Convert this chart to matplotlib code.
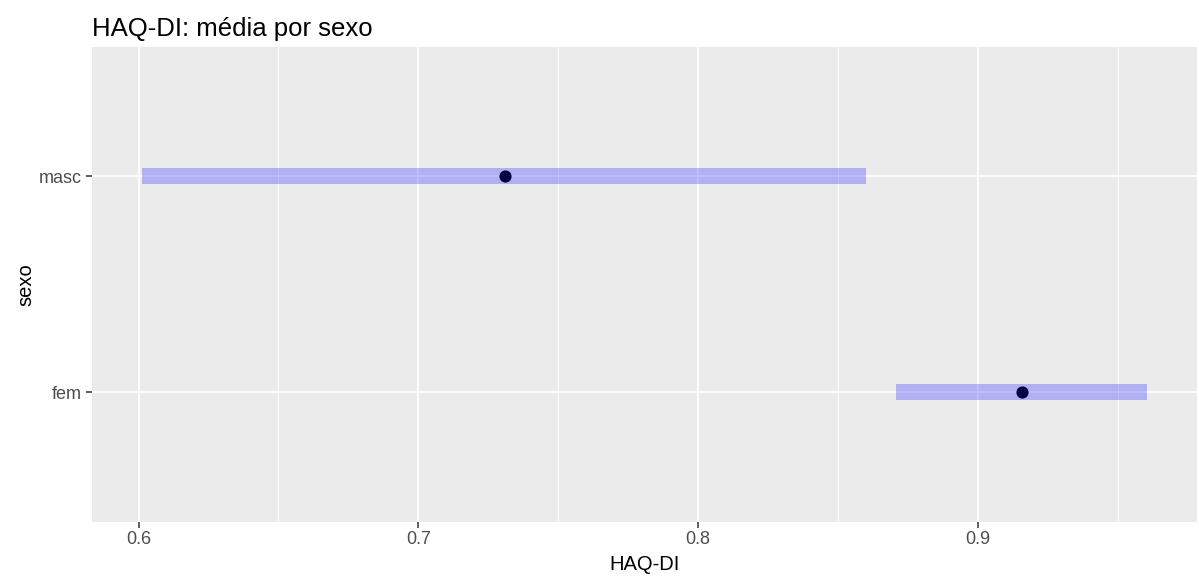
import matplotlib.pyplot as plt
from matplotlib.ticker import MultipleLocator

plt.rcParams['font.family'] = ['Liberation Sans', 'DejaVu Sans']

# HAQ-DI mean and interval by sex
sexo = ['fem', 'masc']
media = [0.9157, 0.7309]
lim_inf = [0.8706, 0.6013]
lim_sup = [0.9603, 0.8601]

panel_bg = '#EBEBEB'
tick_col = '#4D4D4D'

fig = plt.figure(figsize=(11.99, 5.83), dpi=100)
ax = fig.add_axes([0.0767, 0.1051, 0.9216, 0.8148])
ax.set_facecolor(panel_bg)

ypos = list(range(len(sexo)))
ax.scatter(media, ypos, s=60, color='black', zorder=3)
ax.hlines(ypos, lim_inf, lim_sup, color='blue', alpha=0.25, linewidth=11.5,
          zorder=4)

# ggplot-like expansion: 5% on continuous, 0.6 on discrete
lo, hi = min(lim_inf), max(lim_sup)
pad = (hi - lo) * 0.05
ax.set_xlim(lo - pad, hi + pad)
ax.set_ylim(-0.6, len(sexo) - 1 + 0.6)

ax.xaxis.set_minor_locator(MultipleLocator(0.05))
ax.set_xticks([0.6, 0.7, 0.8, 0.9])
ax.set_xticklabels(['0.6', '0.7', '0.8', '0.9'])
ax.set_yticks(ypos)
ax.set_yticklabels(sexo)

ax.grid(which='major', color='white', linewidth=1.3)
ax.grid(which='minor', axis='x', color='white', linewidth=0.6)
ax.set_axisbelow(True)
for s in ax.spines.values():
    s.set_visible(False)

ax.tick_params(which='major', length=4, width=1.1, color='#333333',
               labelcolor=tick_col, labelsize=13, pad=3)
ax.tick_params(which='minor', length=0)

ax.set_xlabel('HAQ-DI', fontsize=14.5, color='black', labelpad=5)
ax.set_ylabel('sexo', fontsize=14.5, color='black', labelpad=3)
ax.set_title('HAQ-DI: média por sexo', fontsize=18.5, loc='left', pad=8)

fig.savefig('out.png', dpi=100)
